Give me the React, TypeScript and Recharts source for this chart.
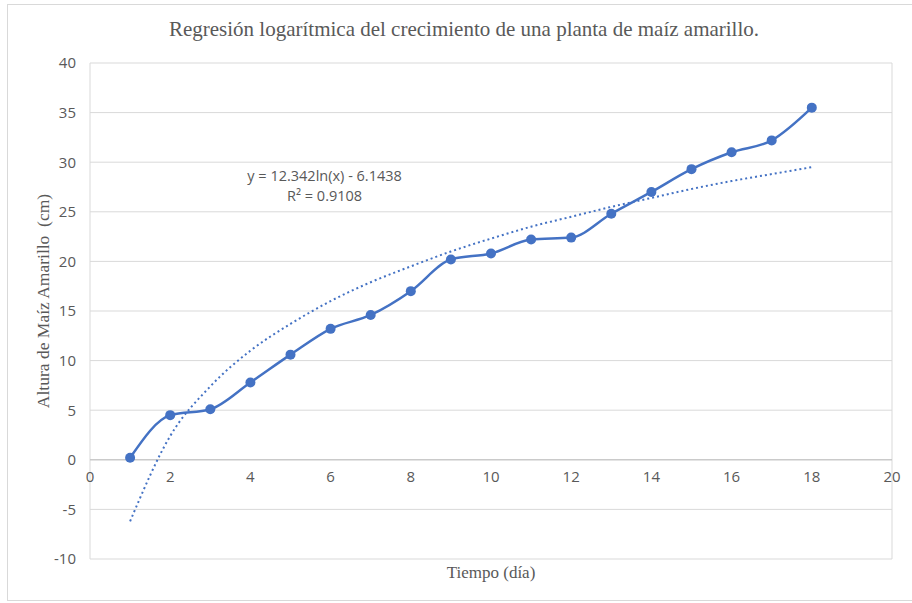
import React from "react";
import {
  CartesianGrid,
  Line,
  LineChart,
  ReferenceDot,
  ReferenceLine,
  XAxis,
  YAxis,
} from "recharts";

const dias = [1, 2, 3, 4, 5, 6, 7, 8, 9, 10, 11, 12, 13, 14, 15, 16, 17, 18];
const alturas = [0.2, 4.5, 5.1, 7.8, 10.6, 13.2, 14.6, 17.0, 20.2, 20.8, 22.2, 22.4, 24.8, 27.0, 29.3, 31.0, 32.2, 35.5];
// trendline at each day
const tendencia = [-6.2, 2.4, 7.4, 11.0, 13.7, 16.0, 17.9, 19.5, 21.0, 22.3, 23.5, 24.5, 25.5, 26.4, 27.3, 28.1, 28.8, 29.5];
const xTicks = [0, 2, 4, 6, 8, 10, 12, 14, 16, 18, 20];
const yTicks = [-10, -5, 0, 5, 10, 15, 20, 25, 30, 35, 40];
const ecuacion = ["y = 12.342ln(x) - 6.1438", "R² = 0.9108"];

const data = dias.map((d, i) => ({ dia: d, altura: alturas[i], tendencia: tendencia[i] }));

const BLUE = "#4472C4";
const TEXT = "#595959";
const GRID = "#d9d9d9";
const SANS = "'Open Sans', 'Noto Sans', sans-serif";
const SERIF = "'Liberation Serif', 'DejaVu Serif', serif";

export default function App() {
  return (
    <div style={{ position: "absolute", left: 0, top: 0, width: 912, height: 603, background: "#fff" }}>
      <div
        style={{
          position: "absolute",
          left: 7,
          top: 4,
          width: 910,
          height: 595,
          border: `1px solid ${GRID}`,
        }}
      />
      <div
        style={{
          position: "absolute",
          top: 17,
          left: 0,
          width: 928,
          textAlign: "center",
          fontFamily: SERIF,
          fontSize: 21,
          color: TEXT,
        }}
      >
        Regresión logarítmica del crecimiento de una planta de maíz amarillo.
      </div>
      <div
        style={{
          position: "absolute",
          left: 43,
          top: 301,
          transform: "translate(-50%, -50%) rotate(-90deg)",
          whiteSpace: "pre",
          fontFamily: SERIF,
          fontSize: 17.5,
          color: TEXT,
        }}
      >
        {"Altura de Maíz Amarillo  (cm)"}
      </div>
      <div
        style={{
          position: "absolute",
          left: 491,
          top: 573,
          transform: "translate(-50%, -50%)",
          fontFamily: SERIF,
          fontSize: 17,
          color: TEXT,
        }}
      >
        Tiempo (día)
      </div>
      <div style={{ position: "absolute", left: 0, top: 0 }}>
        <LineChart width={912} height={603} data={data} margin={{ top: 63, right: 20, bottom: 44, left: 0 }}>
          <CartesianGrid stroke={GRID} strokeWidth={1} />
          <XAxis
            dataKey="dia"
            type="number"
            domain={[0, 20]}
            ticks={xTicks}
            tick={false}
            axisLine={false}
            tickLine={false}
            height={0}
          />
          <YAxis
            type="number"
            domain={[-10, 40]}
            ticks={yTicks}
            width={90}
            axisLine={false}
            tickLine={false}
            tickSize={0}
            tickMargin={14}
            tick={{ fill: TEXT, fontSize: 15, fontFamily: SANS }}
          />
          <ReferenceLine y={0} stroke="#bfbfbf" strokeWidth={1} />
          {xTicks.map((t) => (
            <ReferenceDot
              key={t}
              x={t}
              y={0}
              r={0}
              fill="none"
              stroke="none"
              label={{ value: String(t), position: "bottom", offset: 12, fill: TEXT, fontSize: 15, fontFamily: SANS }}
            />
          ))}
          <ReferenceDot
            x={5.85}
            y={28.6}
            r={0}
            fill="none"
            stroke="none"
            label={{ value: ecuacion[0], position: "center", fill: TEXT, fontSize: 14.5, fontFamily: SANS }}
          />
          <ReferenceDot
            x={5.85}
            y={26.6}
            r={0}
            fill="none"
            stroke="none"
            label={{ value: ecuacion[1], position: "center", fill: TEXT, fontSize: 14.5, fontFamily: SANS }}
          />
          <Line
            dataKey="tendencia"
            type="monotone"
            stroke={BLUE}
            strokeWidth={2}
            strokeDasharray="2 3"
            dot={false}
            isAnimationActive={false}
          />
          <Line
            dataKey="altura"
            type="monotone"
            stroke={BLUE}
            strokeWidth={2.5}
            dot={{ r: 5, fill: BLUE, stroke: BLUE, strokeWidth: 0 }}
            activeDot={false}
            isAnimationActive={false}
          />
        </LineChart>
      </div>
    </div>
  );
}
